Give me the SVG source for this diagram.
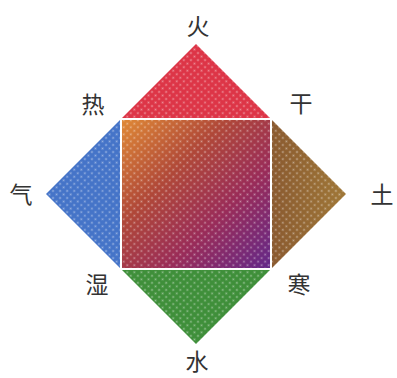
<svg xmlns="http://www.w3.org/2000/svg" width="397" height="378" viewBox="0 0 397 378">
<defs>
<style>
.lbl{font-family:"Noto Sans CJK SC","Noto Sans CJK JP",sans-serif;font-size:23px;fill:#333;text-anchor:middle;dominant-baseline:central}
</style>
<pattern id="dots" width="5" height="5" patternUnits="userSpaceOnUse" patternTransform="rotate(45)">
<circle cx="2.5" cy="2.5" r="1" fill="#fff" fill-opacity="0.45"/>
</pattern>
<linearGradient id="gc" x1="0" y1="0" x2="1" y2="1">
<stop offset="0" stop-color="#e08a36"/>
<stop offset="0.35" stop-color="#b04838"/>
<stop offset="0.65" stop-color="#9a2c58"/>
<stop offset="1" stop-color="#62288a"/>
</linearGradient>
<linearGradient id="gr" x1="0" y1="0" x2="1" y2="0">
<stop offset="0" stop-color="#8a5a30"/>
<stop offset="1" stop-color="#a07838"/>
</linearGradient>
</defs>
<rect width="397" height="378" fill="#fff"/>
<g id="shapes">
<polygon id="fire" points="196,44 271,119 121,119" fill="#dd3547"/>
<polygon id="earth" points="271,119 346,194 271,269" fill="url(#gr)"/>
<polygon id="water" points="121,269 271,269 196,344" fill="#3f8f3a"/>
<polygon id="air" points="121,119 121,269 46,194" fill="#4574c8"/>
<rect id="center" x="121" y="119" width="150" height="150" fill="url(#gc)"/>
<polygon points="196,44 346,194 196,344 46,194" fill="url(#dots)"/>
<rect x="121" y="119" width="150" height="150" fill="none" stroke="#fff" stroke-width="2"/>
</g>
<g id="labels">
<text class="lbl" x="198" y="25">火</text>
<text class="lbl" x="93" y="103">热</text>
<text class="lbl" x="301" y="102">干</text>
<text class="lbl" x="21" y="193">气</text>
<text class="lbl" x="382" y="193">土</text>
<text class="lbl" x="97" y="283">湿</text>
<text class="lbl" x="299" y="283">寒</text>
<text class="lbl" x="197" y="360">水</text>
</g>
</svg>
